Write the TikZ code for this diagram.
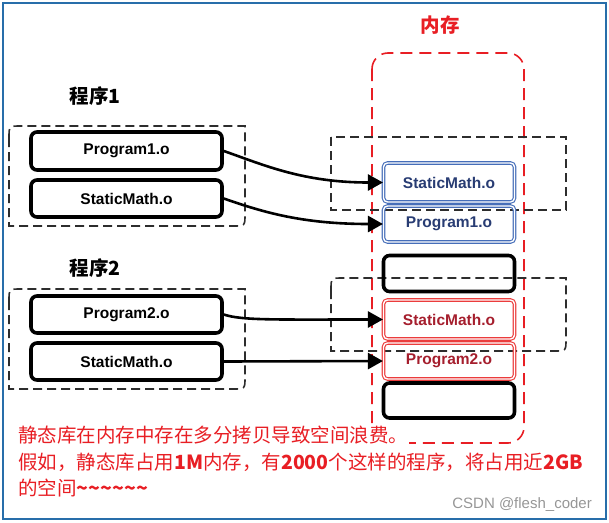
\documentclass[tikz,border=0pt]{standalone}
\usepackage{fontspec}
\setmainfont{Liberation Sans}
\newfontfamily\cjk{Noto Sans CJK SC}
\usetikzlibrary{arrows.meta}
\definecolor{memred}{RGB}{232,30,36}
\definecolor{frameblue}{RGB}{40,110,170}
\definecolor{boxblue}{RGB}{70,110,185}
\definecolor{txtblue}{RGB}{40,60,115}
\definecolor{boxred}{RGB}{235,60,60}
\definecolor{txtred}{RGB}{165,30,45}
\definecolor{grp}{RGB}{45,45,45}
\definecolor{wm}{RGB}{150,150,150}
\tikzset{
  objbox/.style={draw=black, line width=3.6pt, rounded corners=6pt, minimum width=191pt, minimum height=37pt, inner sep=0pt, font=\fontsize{15.5}{18}\selectfont\bfseries},
  membox/.style={line width=1.1pt, rounded corners=4pt, double=white, double distance=1.4pt, minimum width=131pt, minimum height=37pt, inner sep=0pt, font=\fontsize{15.5}{18}\selectfont\bfseries},
  blackmem/.style={draw=black, line width=3.6pt, rounded corners=6pt, minimum width=131pt, minimum height=36pt, inner sep=0pt},
  bluemem/.style={membox, draw=boxblue, text=txtblue},
  redmem/.style={membox, draw=boxred, text=txtred},
  grpbox/.style={draw=grp, line width=1.6pt, dash pattern=on 9pt off 5pt},
  link/.style={draw=black, line width=2.6pt, -{Triangle[length=15pt,width=16pt]}},
  cjklabel/.style={font=\cjk\fontsize{19.5}{22}\selectfont\bfseries, inner sep=0pt},
  note/.style={font=\cjk\fontsize{19.5}{22}\selectfont, text=memred, inner sep=1pt, anchor=west}
}
\begin{document}
\begin{tikzpicture}[x=1pt,y=-1pt]
\useasboundingbox (0,0) rectangle (609,522);
\draw[frameblue, line width=1.2pt] (3,3) rectangle (606,519);

% memory region
\draw[memred, line width=1.6pt, dash pattern=on 12pt off 7pt, rounded corners=16pt] (372,53) rectangle (524,443);
\node[cjklabel, text=memred] (mem) at (440,25) {内存};

% group boxes
\draw[grpbox] (9,138) .. controls (9,126) .. (21,126) -- (245,126) -- (245,214) .. controls (245,226) .. (233,226) -- (9,226) -- cycle;
\draw[grpbox] (9,301) .. controls (9,289) .. (21,289) -- (245,289) -- (245,377) .. controls (245,389) .. (233,389) -- (9,389) -- cycle;
\draw[grpbox] (331,137) rectangle (566,210);
\draw[grpbox] (331,290) .. controls (331,278) .. (343,278) -- (566,278) -- (566,339) .. controls (566,351) .. (554,351) -- (331,351) -- cycle;

% program labels
\node[cjklabel] (p1lbl) at (95,96) {程序1};
\node[cjklabel] (p2lbl) at (95,268) {程序2};

% program object boxes
\node[objbox, minimum height=38pt] (p1) at (126.5,151) {Program1.o};
\node[objbox] (s1) at (126.5,198.5) {StaticMath.o};
\node[objbox] (p2) at (126.5,314.5) {Program2.o};
\node[objbox] (s2) at (126.5,361.5) {StaticMath.o};

% memory boxes
\node[bluemem, minimum height=39pt] (ms1) at (449,182.5) {StaticMath.o};
\node[bluemem, minimum height=36pt] (mp1) at (449,224) {Program1.o};
\node[blackmem] (mb1) at (449,273.5) {};
\node[redmem, minimum height=39pt] (ms2) at (449,319.5) {StaticMath.o};
\node[redmem, minimum height=36pt] (mp2) at (449,361) {Program2.o};
\node[blackmem, minimum height=35pt] (mb2) at (449,400.5) {};

% connectors
\draw[link] (p1.east) .. controls +(40,14) and +(-80,0) .. (ms1.west);
\draw[link] (s1.east) .. controls +(40,14) and +(-80,0) .. (mp1.west);
\draw[link] (p2.east) .. controls +(18,6) and +(-110,0) .. (ms2.west);
\draw[link] (s2.east) -- (mp2.west);

% notes
\node[note, fill=white] (t1) at (17,435) {静态库在内存中存在多分拷贝导致空间浪费。};
\node[note] (t2) at (17,462) {假如，静态库占用{\bfseries 1M}内存，有{\bfseries 2000}个这样的程序，将占用近{\bfseries 2GB}};
\node[note] (t3) at (17,488) {的空间{\bfseries \char`\~\char`\~\char`\~\char`\~\char`\~\char`\~}};

\node[font=\fontsize{15}{18}\selectfont, text=wm, anchor=east, inner sep=0pt] (wmk) at (592,505) {CSDN @flesh\_coder};
\end{tikzpicture}
\end{document}
